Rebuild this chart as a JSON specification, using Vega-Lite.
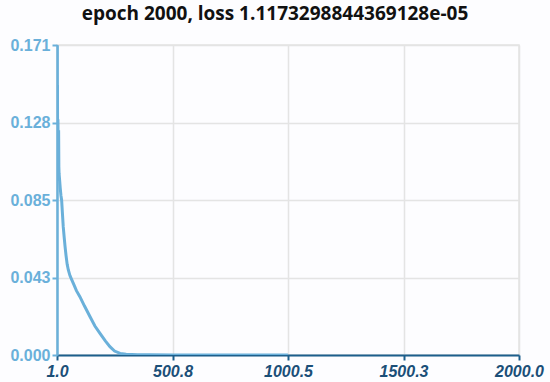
{
  "$schema": "https://vega.github.io/schema/vega-lite/v6.json",
  "width": 462,
  "height": 310,
  "autosize": {"type": "none"},
  "padding": {"left": 57, "top": 45, "right": 31, "bottom": 27},
  "background": "#fdfdff",
  "title": {
    "text": "epoch 2000, loss 1.1173298844369128e-05",
    "font": "Open Sans",
    "fontSize": 19,
    "fontWeight": "bold",
    "color": "#111111",
    "anchor": "middle",
    "dx": -13,
    "offset": 13
  },
  "data": {
    "values": [
      {"epoch": 1, "loss": 0.171},
      {"epoch": 2, "loss": 0.100},
      {"epoch": 3, "loss": 0.149},
      {"epoch": 4, "loss": 0.096},
      {"epoch": 5, "loss": 0.130},
      {"epoch": 6, "loss": 0.118},
      {"epoch": 7, "loss": 0.110},
      {"epoch": 8, "loss": 0.124},
      {"epoch": 9, "loss": 0.104},
      {"epoch": 10, "loss": 0.100},
      {"epoch": 12, "loss": 0.097},
      {"epoch": 15, "loss": 0.092},
      {"epoch": 18, "loss": 0.088},
      {"epoch": 21, "loss": 0.0855},
      {"epoch": 25, "loss": 0.077},
      {"epoch": 28, "loss": 0.0708},
      {"epoch": 32, "loss": 0.065},
      {"epoch": 36, "loss": 0.0597},
      {"epoch": 40, "loss": 0.055},
      {"epoch": 45, "loss": 0.050},
      {"epoch": 50, "loss": 0.0469},
      {"epoch": 57, "loss": 0.0438},
      {"epoch": 65, "loss": 0.0414},
      {"epoch": 75, "loss": 0.0385},
      {"epoch": 85, "loss": 0.0355},
      {"epoch": 100, "loss": 0.0322},
      {"epoch": 120, "loss": 0.027},
      {"epoch": 144, "loss": 0.0211},
      {"epoch": 165, "loss": 0.016},
      {"epoch": 187, "loss": 0.0119},
      {"epoch": 210, "loss": 0.0078},
      {"epoch": 230, "loss": 0.0046},
      {"epoch": 250, "loss": 0.0022},
      {"epoch": 274, "loss": 0.0009},
      {"epoch": 300, "loss": 0.0004},
      {"epoch": 350, "loss": 0.0002},
      {"epoch": 400, "loss": 0.0001},
      {"epoch": 500, "loss": 0.00005},
      {"epoch": 600, "loss": 0.00003},
      {"epoch": 700, "loss": 0.00002},
      {"epoch": 800, "loss": 0.000015},
      {"epoch": 900, "loss": 0.000012},
      {"epoch": 1000, "loss": 0.0000112}
    ]
  },
  "mark": {"type": "line", "color": "#6ab0da", "strokeWidth": 3, "clip": true},
  "encoding": {
    "x": {
      "field": "epoch",
      "type": "quantitative",
      "scale": {"domain": [1, 2000], "nice": false, "zero": false},
      "axis": {
        "title": null,
        "values": [1, 500.75, 1000.5, 1500.25, 2000],
        "format": ".1f",
        "domainColor": "#1d5f8c",
        "domainWidth": 2,
        "tickColor": "#1d5f8c",
        "tickWidth": 2,
        "tickSize": 5,
        "labelColor": "#1b4f78",
        "labelFont": "Liberation Sans",
        "labelFontSize": 16,
        "labelFontWeight": "bold",
        "labelFontStyle": "italic",
        "labelPadding": 3,
        "labelFlush": false,
        "grid": true,
        "gridColor": "#e4e4e4",
        "gridWidth": 1.5
      }
    },
    "y": {
      "field": "loss",
      "type": "quantitative",
      "scale": {"domain": [0, 0.171], "nice": false},
      "axis": {
        "title": null,
        "values": [0, 0.04275, 0.08549, 0.12825, 0.171],
        "format": ".3f",
        "domainColor": "#6ab0da",
        "domainWidth": 2.5,
        "tickColor": "#6ab0da",
        "tickWidth": 2,
        "tickSize": 5,
        "labelColor": "#6ab0da",
        "labelFont": "Liberation Sans",
        "labelFontSize": 16,
        "labelFontWeight": "bold",
        "labelPadding": 2,
        "labelFlush": false,
        "grid": true,
        "gridColor": "#e4e4e4",
        "gridWidth": 1.5
      }
    }
  },
  "config": {"view": {"stroke": "#e4e4e4", "strokeWidth": 1.5}}
}
